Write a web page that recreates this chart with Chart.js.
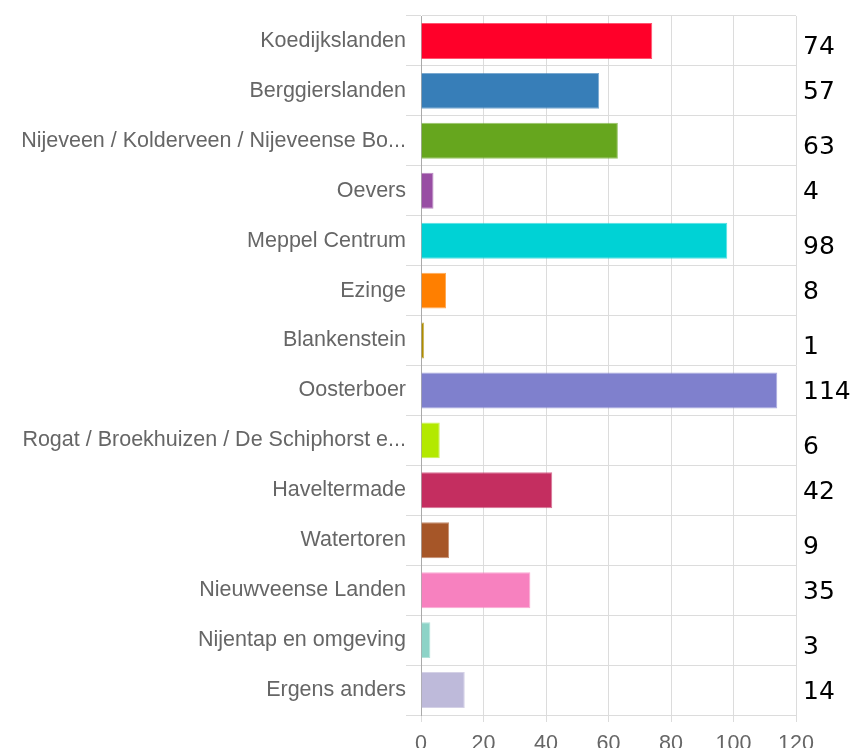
<!DOCTYPE html>
<html>
<head>
<meta charset="utf-8">
<script src="https://cdn.jsdelivr.net/npm/chart.js@4"></script>
<style>
html,body{margin:0;padding:0;background:#fff;}
#wrap{width:856px;height:748px;position:relative;}
</style>
</head>
<body>
<div id="wrap"><canvas id="c" width="856" height="748"></canvas></div>
<script>
const categories = [
  "Koedijkslanden",
  "Berggierslanden",
  "Nijeveen / Kolderveen / Nijeveense Bo...",
  "Oevers",
  "Meppel Centrum",
  "Ezinge",
  "Blankenstein",
  "Oosterboer",
  "Rogat / Broekhuizen / De Schiphorst e...",
  "Haveltermade",
  "Watertoren",
  "Nieuwveense Landen",
  "Nijentap en omgeving",
  "Ergens anders"
];
const values = [74, 57, 63, 4, 98, 8, 1, 114, 6, 42, 9, 35, 3, 14];
const barColors = [
  "#ff0029", "#377eb8", "#66a61e", "#984ea3", "#00d2d5", "#ff7f00", "#af8d00",
  "#7f80cd", "#b3e900", "#c42e60", "#a65628", "#f781bf", "#8dd3c7", "#bebada"
];
const xTicks = [0, 20, 40, 60, 80, 100, 120];

const valueLabels = {
  id: 'valueLabels',
  afterDatasetsDraw(chart) {
    const ctx = chart.ctx;
    const meta = chart.getDatasetMeta(0);
    const area = chart.chartArea;
    ctx.save();
    ctx.font = '25px "DejaVu Sans", Verdana, sans-serif';
    ctx.fillStyle = '#000';
    ctx.textAlign = 'left';
    ctx.textBaseline = 'middle';
    meta.data.forEach((bar, i) => {
      const dy = (i % 2 === 0) ? 7 : 2;
      ctx.fillText(String(values[i]), area.right + 7, bar.y + dy);
    });
    ctx.restore();
  }
};

new Chart(document.getElementById('c'), {
  type: 'bar',
  data: {
    labels: categories,
    datasets: [{
      data: values,
      backgroundColor: barColors,
      borderColor: barColors.map(c => c + 'aa'),
      borderWidth: 1
    }]
  },
  options: {
    indexAxis: 'y',
    responsive: false,
    animation: false,
    devicePixelRatio: 1,
    layout: { padding: { top: 16, right: 60, left: 0, bottom: 0 } },
    plugins: { legend: { display: false }, tooltip: { enabled: false } },
    scales: {
      x: {
        min: 0, max: 120,
        afterBuildTicks: s => { s.ticks = xTicks.map(v => ({ value: v })); },
        afterFit: s => { s.height = 33; },
        grid: { color: '#dcdcdc', tickLength: 7 },
        border: { color: '#dcdcdc' },
        ticks: { color: '#666', font: { family: 'Liberation Sans, Arial', size: 21.5 }, padding: 9 }
      },
      y: {
        afterFit: s => { s.width = 421; },
        grid: { color: '#dcdcdc', tickLength: 15 },
        border: { color: '#aaaaaa' },
        ticks: { color: '#666', font: { family: 'Liberation Sans, Arial', size: 21.5 }, padding: 0, autoSkip: false }
      }
    }
  },
  plugins: [valueLabels]
});
</script>
</body>
</html>
